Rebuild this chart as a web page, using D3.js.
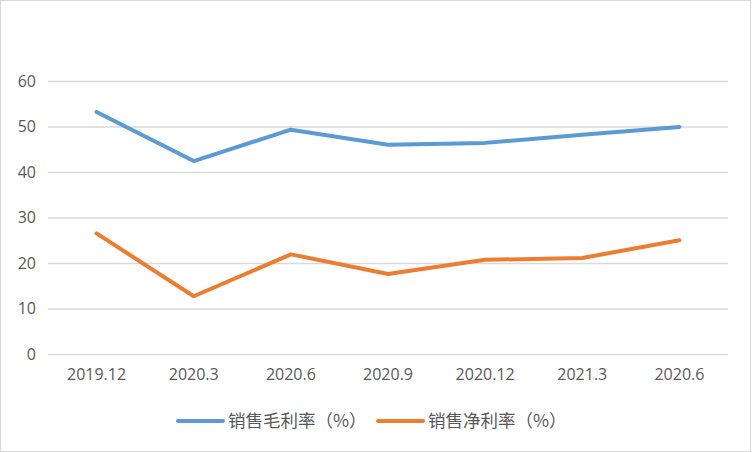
<!DOCTYPE html>
<html>
<head>
<meta charset="utf-8">
<script src="https://cdn.jsdelivr.net/npm/d3@7"></script>
<style>
  body { margin: 0; background: #fff; }
  text { font-family: "Open Sans", "Noto Sans CJK SC", sans-serif; fill: #595959; }
</style>
</head>
<body>
<div id="chart"></div>
<script>
// data
const categories = ["2019.12", "2020.3", "2020.6", "2020.9", "2020.12", "2021.3", "2020.6"];
const grossMargin = [53.2, 42.4, 49.3, 46.0, 46.4, 48.2, 49.9];
const netMargin = [26.5, 12.7, 21.9, 17.6, 20.7, 21.1, 25.0];
const yTicks = [0, 10, 20, 30, 40, 50, 60];
const seriesNames = ["销售毛利率（%）", "销售净利率（%）"];
const colors = ["#5B9BD5", "#ED7D31"];

const W = 752, H = 452;
const margin = { top: 81, right: 24, bottom: 98, left: 48 },
  width = W - margin.left - margin.right,
  height = H - margin.top - margin.bottom;

const root = d3.select("#chart").append("svg")
  .attr("width", W)
  .attr("height", H);

// outer border of the chart area
root.append("rect")
  .attr("x", 0.5).attr("y", 0.5)
  .attr("width", W - 2).attr("height", H - 1)
  .attr("fill", "#fff")
  .attr("stroke", "#D9D9D9");

const svg = root.append("g")
  .attr("transform", `translate(${margin.left},${margin.top})`);

const x = d3.scaleBand()
  .domain(categories.map((d, i) => i))
  .range([0, width]);

const y = d3.scaleLinear()
  .domain([0, 60])
  .range([height, 0]);

// gridlines + y labels
const yAxis = svg.append("g")
  .call(d3.axisLeft(y).tickValues(yTicks).tickSize(-width).tickPadding(12));
yAxis.select(".domain").remove();
yAxis.selectAll(".tick line").attr("stroke", "#D9D9D9").attr("stroke-width", 1.3);
yAxis.selectAll(".tick text").style("font-size", "16px");

// x labels
const xAxis = svg.append("g")
  .attr("transform", `translate(0,${height})`)
  .call(d3.axisBottom(x).tickFormat(i => categories[i]).tickSize(0).tickPadding(15));
xAxis.select(".domain").remove();
xAxis.selectAll(".tick text").style("font-size", "16px");

const line = d3.line()
  .x((d, i) => x(i) + x.bandwidth() / 2)
  .y(d => y(d));

[grossMargin, netMargin].forEach((vals, k) => {
  svg.append("path")
    .datum(vals)
    .attr("fill", "none")
    .attr("stroke", colors[k])
    .attr("stroke-width", 4)
    .attr("stroke-linejoin", "round")
    .attr("stroke-linecap", "round")
    .attr("d", line);
});

// legend
const legendX = [178, 378];
seriesNames.forEach((name, k) => {
  const g = root.append("g").attr("transform", `translate(${legendX[k]},421)`);
  g.append("line")
    .attr("x1", 0).attr("x2", 45)
    .attr("stroke", colors[k])
    .attr("stroke-width", 4)
    .attr("stroke-linecap", "round");
  g.append("text")
    .attr("x", 50)
    .attr("dy", "0.35em")
    .style("font-family", "'Noto Sans CJK SC', sans-serif")
    .style("font-size", "17.5px")
    .text(name);
});
</script>
</body>
</html>
